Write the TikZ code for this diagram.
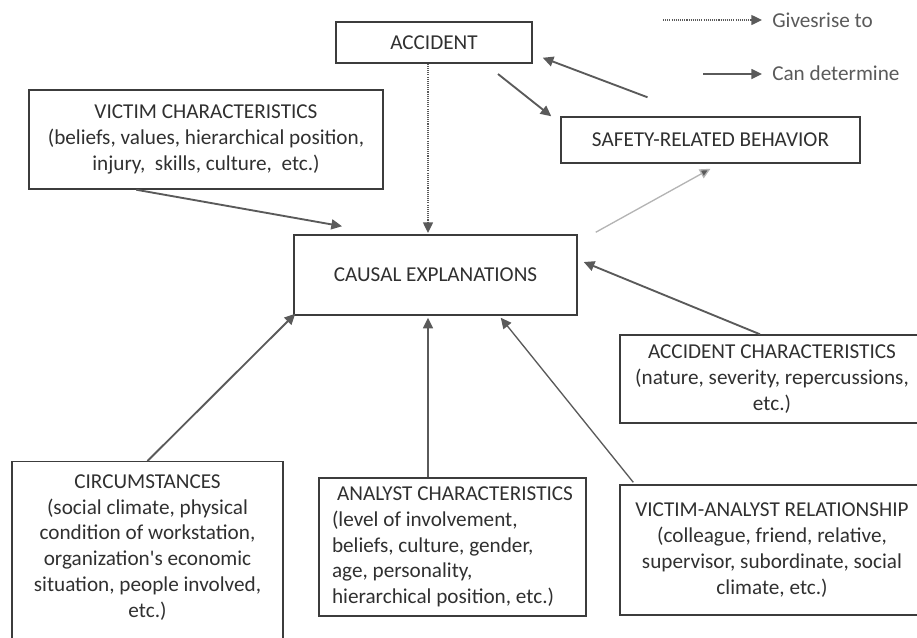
\documentclass[tikz,border=0pt]{standalone}
\usepackage{fontspec}
\setmainfont{Carlito}
\usetikzlibrary{arrows.meta}
\newdimen\px
\px=0.75pt
\definecolor{boxline}{HTML}{3C3C3C}
\definecolor{arrowgray}{HTML}{5A5A5A}
\definecolor{fadegray}{HTML}{B4B4B4}
\definecolor{txtgray}{HTML}{303030}
\begin{document}
\begin{tikzpicture}[x=0.75pt,y=-0.75pt,
    every node/.style={font=\fontsize{15.9}{19.3}\selectfont, text=txtgray},
    box/.style={draw=boxline, line width=1.1pt, align=center, inner sep=0pt},
    det/.style={draw=arrowgray, line width=1.4pt, -{Triangle[length=8pt,width=7.5pt]}},
    faint/.style={draw=fadegray, line width=1pt, -{Triangle[length=8pt,width=7.5pt,fill=arrowgray]}},
    gives/.style={draw=arrowgray, line width=1pt, dash pattern=on 0.8pt off 0.8pt, -{Triangle[length=8pt,width=7.5pt]}},
    legend/.style={anchor=west, inner sep=0pt, text=arrowgray}]
          \clip (0,0) rectangle (917,637);
          \node[box, minimum width=196\px, minimum height=41\px] (acc) at (434,42.5) {ACCIDENT};
          \node[box, minimum width=299\px, minimum height=46\px] (srb) at (710.5,140) {SAFETY-RELATED BEHAVIOR};
          \node[box, minimum width=354\px, minimum height=99\px] (vc) at (206,139.5)
               {VICTIM CHARACTERISTICS\\(beliefs, values, hierarchical position,\\injury,\ \ skills, culture,\ \ etc.)};
          \node[box, minimum width=283\px, minimum height=80\px] (ce) at (435.5,275) {CAUSAL EXPLANATIONS};
          \node[box, minimum width=304\px, minimum height=88\px] (ac) at (772,379)
               {ACCIDENT CHARACTERISTICS\\(nature, severity, repercussions,\\etc.)};
          \node[box, anchor=north, minimum width=271\px, inner ysep=13\px, text depth=60\px] (circ) at (147.5,461)
               {CIRCUMSTANCES\\(social climate, physical\\condition of workstation,\\organization\textquotesingle s economic\\situation, people involved,\\etc.)};
          \node[box, align=left, minimum width=267\px, minimum height=138\px] (an) at (452.5,547)
               {\hspace*{5\px}ANALYST CHARACTERISTICS\\(level of involvement,\\beliefs, culture, gender,\\age, personality,\\hierarchical position, etc.)};
          \node[box, minimum width=304\px, minimum height=130\px] (var) at (772,550)
               {VICTIM-ANALYST RELATIONSHIP\\(colleague, friend, relative,\\supervisor, subordinate, social\\climate, etc.)};

          \node[legend] (gr) at (772,20) {Givesrise to};
          \node[legend] (cd) at (772,73) {Can determine};
          \coordinate (gr0) at (663,20);
          \coordinate (cd0) at (703,74);
          \coordinate (acc0) at (498,74);
          \coordinate (ce0) at (428,233);

          \draw[gives] (gr0) -- ([xshift=-10\px]gr.west);
          \draw[det, line width=1.1pt] (cd0) -- ([xshift=-10\px,yshift=-1\px]cd.west);

          \draw[gives] (acc.south -| ce0) -- (ce0);
          \draw[det] (acc0) -- ([xshift=-9\px]srb.north west);
          \draw[det] ([xshift=-63\px,yshift=19\px]srb.north) -- ([xshift=10\px,yshift=6\px]acc.south east);
          \draw[faint] ([xshift=18\px,yshift=2\px]ce.north east) -- ([yshift=-5\px]srb.south);
          \draw[det] ([xshift=108\px]vc.south west) -- ([xshift=-93.5\px,yshift=8\px]ce.north);
          \draw[det] ([xshift=-12\px]ac.north) -- ([xshift=6\px,yshift=13\px]ce.east);
          \draw[det] (circ.north) -- ([xshift=2\px,yshift=2\px]ce.south west);
          \draw[det, line width=1.1pt] ([xshift=-24.5\px]an.north) -- ([xshift=-7.5\px,yshift=-2\px]ce.south);
          \draw[det, line width=1pt] ([xshift=14\px,yshift=2\px]var.north west) -- ([xshift=-77\px,yshift=-2\px]ce.south east);
        \end{tikzpicture}
\end{document}
